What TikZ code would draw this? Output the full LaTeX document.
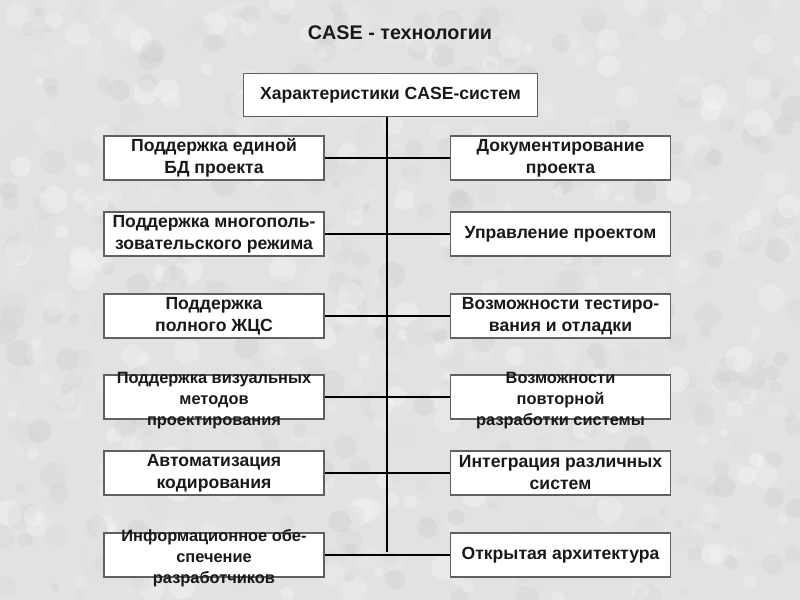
\documentclass[tikz,border=0pt]{standalone}
\usepackage{fontspec}
\setmainfont{Liberation Sans}
\definecolor{bggray}{HTML}{E2E2E2}
\definecolor{boxgray}{HTML}{606060}
\begin{document}
\begin{tikzpicture}[x=0.75pt,y=-0.75pt,
  box/.style={draw=boxgray, fill=white, line width=0.8pt, minimum width=165pt, minimum height=33pt, inner sep=0pt},
  txt/.style={font=\fontsize{13.2}{16.5}\selectfont\bfseries, align=center, inner sep=0pt, text=black!90},
  txts/.style={font=\fontsize{12.3}{15.8}\selectfont\bfseries, align=center, inner sep=0pt, text=black!90, yshift=-2.5pt},
  conn/.style={line width=1.3pt, black}]
\useasboundingbox (0,0) rectangle (800,600);
\begin{scope}
\clip (0,0) rectangle (800,600);
\fill[bggray] (0,0) rectangle (800,600);
\pgfmathsetseed{4242}
\foreach \k in {1,...,900}{
  \pgfmathsetmacro{\px}{rnd*800}
  \pgfmathsetmacro{\py}{rnd*600}
  \pgfmathsetmacro{\pr}{4+rnd*10}
  \pgfmathsetmacro{\pg}{rnd*22}
  \fill[black!\pg, opacity=0.3] (\px,\py) circle[radius=\pr];
}
\end{scope}

\node[font=\fontsize{14.8}{17}\selectfont\bfseries, text=black!90] (title) at (400,33) {CASE - технологии};

\node[box, minimum width=221pt, minimum height=32.5pt, label={[txt]center:Характеристики CASE-систем}] (top) at (390.5,95) {};

\node[box, label={[txt]center:{Поддержка единой\\БД проекта}}] (l1) at (214,158) {};
\node[box, label={[txt]center:{Поддержка многополь-\\зовательского режима}}] (l2) at (214,234) {};
\node[box, label={[txt]center:{Поддержка\\полного ЖЦС}}] (l3) at (214,316) {};
\node[box, label={[txts]center:{Поддержка визуальных\\методов\\проектирования}}] (l4) at (214,397) {};
\node[box, label={[txt]center:{Автоматизация\\кодирования}}] (l5) at (214,473) {};
\node[box, label={[txts]center:{Информационное обе-\\спечение\\разработчиков}}] (l6) at (214,555) {};

\node[box, label={[txt]center:{Документирование\\проекта}}] (r1) at (560.5,158) {};
\node[box, label={[txt]center:{Управление проектом}}] (r2) at (560.5,234) {};
\node[box, label={[txt]center:{Возможности тестиро-\\вания и отладки}}] (r3) at (560.5,316) {};
\node[box, label={[txts]center:{Возможности\\повторной\\разработки системы}}] (r4) at (560.5,397) {};
\node[box, label={[txt]center:{Интеграция различных\\систем}}] (r5) at (560.5,473) {};
\node[box, label={[txt]center:{Открытая архитектура}}] (r6) at (560.5,555) {};

\coordinate (vend) at (387,552);
\draw[conn] (top.south -| vend) -- (vend);
\foreach \i in {1,...,6}{
  \draw[conn] (l\i.east) -- (r\i.west);
}
\end{tikzpicture}
\end{document}
